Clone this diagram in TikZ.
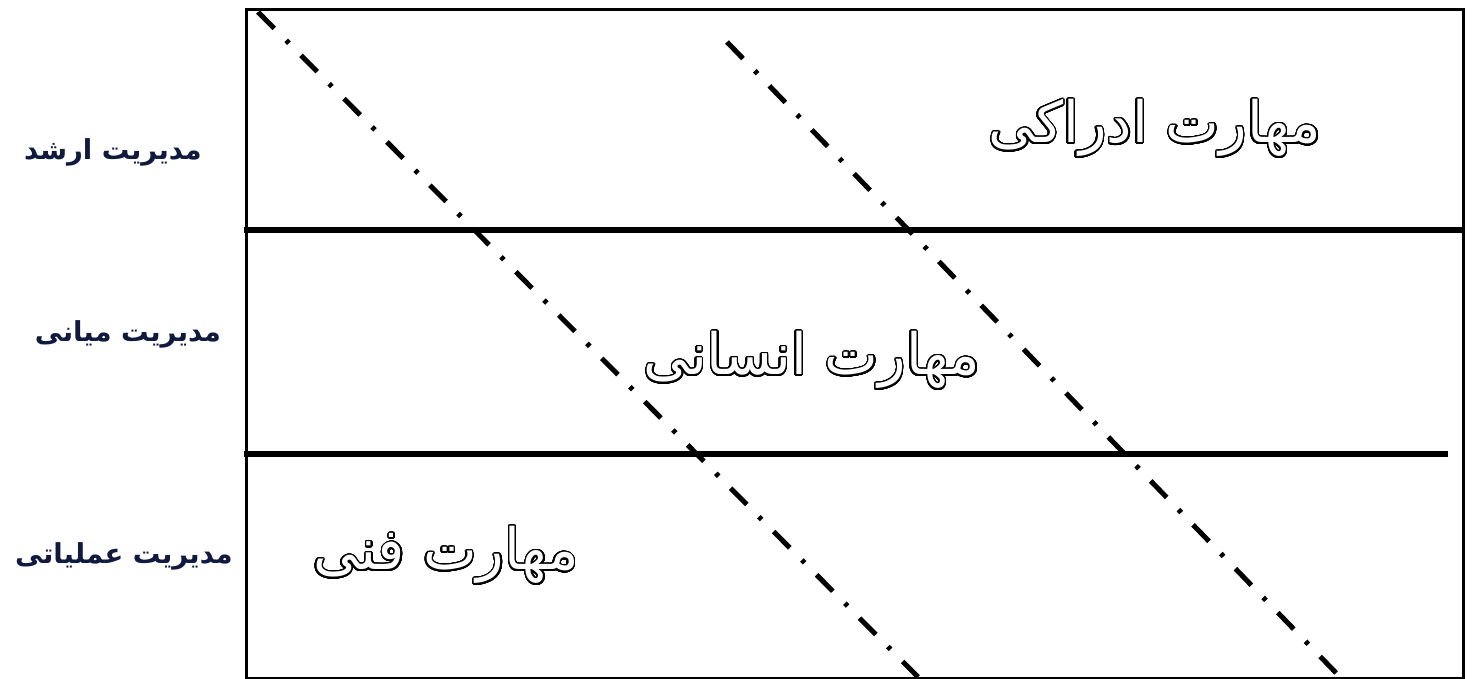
\documentclass[tikz,border=0pt]{standalone}
\usepackage{fontspec}
\usepackage[copies]{contour}
\newfontfamily\arabicfont[Script=Arabic]{DejaVu Sans}
\TeXXeTstate=1
\definecolor{labnavy}{RGB}{16,26,62}
\contournumber{48}
\contourlength{1.4pt}
\tikzset{
  frame/.style={draw=black, line width=3pt},
  level/.style={draw=black, line width=5.5pt},
  dashdot/.style={draw=black, line width=5pt, dash pattern=on 23pt off 17pt on 4pt off 17pt},
  lvlabel/.style={font=\arabicfont\bfseries\fontsize{27.5}{32}\selectfont, text=labnavy, inner sep=0pt},
  skill/.style={font=\arabicfont\fontsize{57}{64}\selectfont, inner sep=0pt},
}
\newcommand{\outl}[1]{\contour{black}{\textcolor{white}{\beginR #1\endR}}}
\begin{document}
\begin{tikzpicture}[x=1pt,y=-1pt]
\useasboundingbox (0,0) rectangle (1475,679);
% frame
\node[frame, minimum width=1217pt, minimum height=669pt, inner sep=0pt, anchor=north west] (box) at (245,8) {};
% level lines
\coordinate (l1a) at (244,230);
\coordinate (l1b) at (1465,230);
\coordinate (l2a) at (244,454);
\coordinate (l2b) at (1448,454);
\draw[level] (l1a) -- (l1b);
\draw[level] (l2a) -- (l2b);
% diagonals
\coordinate (d1a) at (258,12);
\coordinate (d1b) at (918,677);
\coordinate (d2a) at (727,42);
\coordinate (d2b) at (1340,677);
\draw[dashdot] (d1a) -- (d1b);
\draw[dashdot] (d2a) -- (d2b);
% level labels
\node[lvlabel] (top) at (113,152) {\beginR مدیریت ارشد\endR};
\node[lvlabel] (mid) at (128,334) {\beginR مدیریت میانی\endR};
\node[lvlabel] (low) at (124,556) {\beginR مدیریت عملیاتی\endR};
% skills
\node[skill] (concept) at (1155,129) {\outl{مهارت ادراکی}};
\node[skill] (human) at (812,361) {\outl{مهارت انسانی}};
\node[skill] (tech) at (446,556) {\outl{مهارت فنی}};
\end{tikzpicture}
\end{document}
